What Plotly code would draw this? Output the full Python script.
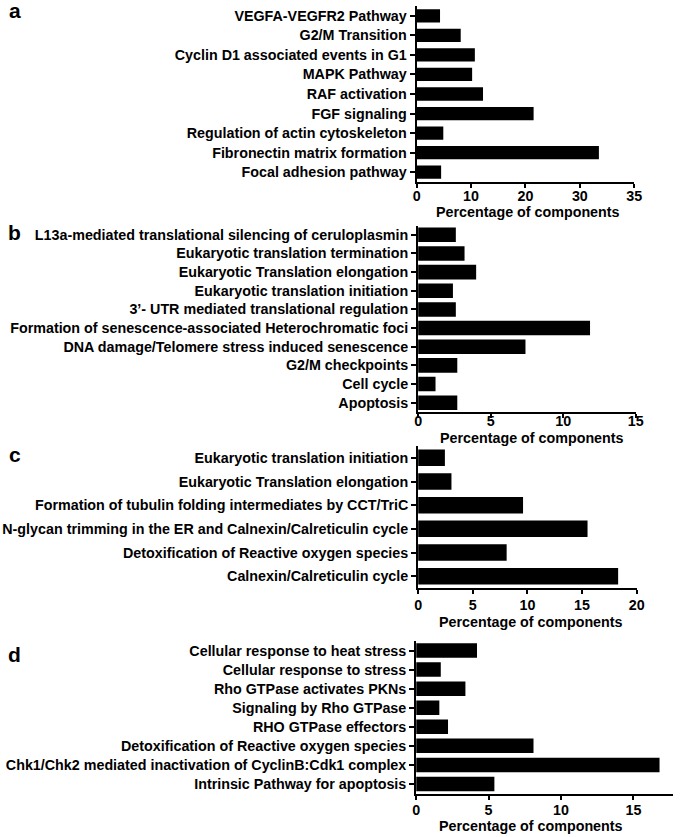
import plotly.graph_objects as go

W, H = 685, 837

# ---------------- data ----------------
categories_a = ["VEGFA-VEGFR2 Pathway", "G2/M Transition", "Cyclin D1 associated events in G1",
                "MAPK Pathway", "RAF activation", "FGF signaling", "Regulation of actin cytoskeleton",
                "Fibronectin matrix formation", "Focal adhesion pathway"]
values_a = [4.3, 8.1, 10.7, 10.2, 12.2, 21.5, 4.9, 33.5, 4.5]
xtick_a_vals = [0, 10, 20, 30, 40]
xtick_a_text = ["0", "10", "20", "30", "35"]

categories_b = ["L13a-mediated translational silencing of ceruloplasmin",
                "Eukaryotic translation termination", "Eukaryotic Translation elongation",
                "Eukaryotic translation initiation", "3’- UTR mediated translational regulation",
                "Formation of senescence-associated Heterochromatic foci",
                "DNA damage/Telomere stress induced senescence", "G2/M checkpoints",
                "Cell cycle", "Apoptosis"]
values_b = [2.6, 3.2, 4.0, 2.4, 2.6, 11.85, 7.4, 2.7, 1.2, 2.7]
xtick_b_vals = [0, 5, 10, 15]
xtick_b_text = ["0", "5", "10", "15"]

categories_c = ["Eukaryotic translation initiation", "Eukaryotic Translation elongation",
                "Formation of tubulin folding intermediates by CCT/TriC",
                "N-glycan trimming in the ER and Calnexin/Calreticulin cycle",
                "Detoxification of Reactive oxygen species", "Calnexin/Calreticulin cycle"]
values_c = [2.45, 3.05, 9.6, 15.5, 8.1, 18.3]
xtick_c_vals = [0, 5, 10, 15, 20]
xtick_c_text = ["0", "5", "10", "15", "20"]

categories_d = ["Cellular response to heat stress", "Cellular response to stress",
                "Rho GTPase activates PKNs", "Signaling by Rho GTPase", "RHO GTPase effectors",
                "Detoxification of Reactive oxygen species",
                "Chk1/Chk2 mediated inactivation of CyclinB:Cdk1 complex",
                "Intrinsic Pathway for apoptosis"]
values_d = [4.2, 1.7, 3.4, 1.6, 2.2, 8.1, 16.8, 5.4]
xtick_d_vals = [0, 5, 10, 15]
xtick_d_text = ["0", "5", "10", "15"]

panel_letters = ["a", "b", "c", "d"]
x_title = "Percentage of components"

# ---------------- layout helpers ----------------
def fx(p):
    return p / W

def fy(p):
    return 1 - p / H

FONT = "Liberation Sans, Arial, sans-serif"
FS = 14.3

panels = [
    # cats, vals, tickvals, ticktext, xrange, x px, y px, bar width, title pos, letter pos, x-label standoff
    (categories_a, values_a, xtick_a_vals, xtick_a_text, [0, 40], (420, 641.5), (6, 182), 0.68, (533, 212), (11, 11), -4),
    (categories_b, values_b, xtick_b_vals, xtick_b_text, [0, 15], (421.5, 643), (225.5, 412), 0.78, (537, 438), (11, 232), -9),
    (categories_c, values_c, xtick_c_vals, xtick_c_text, [0, 20], (421.5, 644), (446, 588), 0.70, (536, 622), (11, 454), -1),
    (categories_d, values_d, xtick_d_vals, xtick_d_text, [0, 17.7], (419.5, 680.5), (641, 793.5), 0.76, (536, 826), (11, 654), -2),
]

fig = go.Figure()
annotations = []
layout_axes = {}

for i, (cats, vals, tv, tt, xr, xpx, ypx, bw, tpos, lpos, xso) in enumerate(panels, start=1):
    xa = "x" if i == 1 else f"x{i}"
    ya = "y" if i == 1 else f"y{i}"
    fig.add_trace(go.Bar(
        x=vals, y=cats, orientation="h", xaxis=xa, yaxis=ya,
        marker=dict(color="black", line=dict(width=0)), width=bw, showlegend=False,
    ))
    xkey = "xaxis" if i == 1 else f"xaxis{i}"
    ykey = "yaxis" if i == 1 else f"yaxis{i}"
    layout_axes[xkey] = dict(
        domain=[fx(xpx[0]), fx(xpx[1])], anchor=ya, range=xr,
        tickmode="array", tickvals=tv, ticktext=tt,
        showline=True, linecolor="black", linewidth=2,
        ticks="outside", ticklen=4, tickwidth=1.5, tickcolor="black",
        showgrid=False, zeroline=False,
        tickfont=dict(family=FONT, size=FS, color="black", weight="bold"),
        ticklabelstandoff=xso,
    )
    layout_axes[ykey] = dict(
        domain=[fy(ypx[1]), fy(ypx[0])], anchor=xa,
        type="category", categoryorder="array", categoryarray=cats,
        range=[len(cats) - 0.5, -0.5],
        showline=True, linecolor="black", linewidth=2,
        ticks="outside", ticklen=5, tickwidth=1.5, tickcolor="black",
        showgrid=False, zeroline=False,
        tickfont=dict(family=FONT, size=FS, color="black", weight="bold"),
        ticklabelstandoff=0,
    )
    annotations.append(dict(
        text=x_title, xref="paper", yref="paper", x=fx(tpos[0]), y=fy(tpos[1]),
        xanchor="center", yanchor="middle", showarrow=False,
        font=dict(family=FONT, size=FS, color="black", weight="bold"),
    ))
    annotations.append(dict(
        text=panel_letters[i - 1], xref="paper", yref="paper", x=fx(lpos[0]), y=fy(lpos[1]),
        xanchor="center", yanchor="middle", showarrow=False,
        font=dict(family=FONT, size=21, color="black", weight="bold"),
    ))

fig.update_layout(
    width=W, height=H, margin=dict(l=0, r=0, t=0, b=0),
    paper_bgcolor="white", plot_bgcolor="white",
    annotations=annotations, bargap=0.3,
    **layout_axes,
)

fig.write_html(
    "out.html",
    config={"displayModeBar": False},
    post_script="document.body.style.margin='0';document.body.style.overflow='hidden';",
)
